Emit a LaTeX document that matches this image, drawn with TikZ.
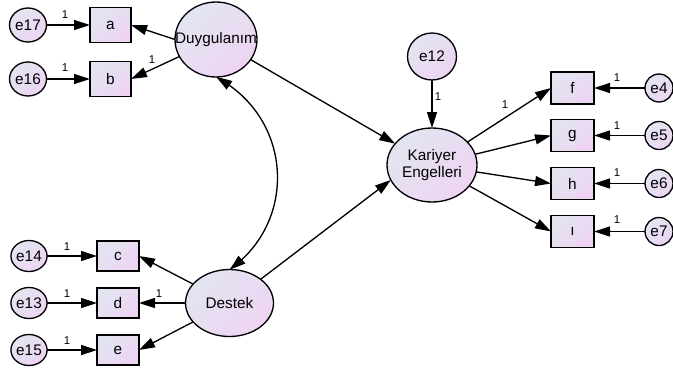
\documentclass[tikz,border=0pt]{standalone}
\usepackage{fontspec}
\setmainfont{Liberation Sans}
\usetikzlibrary{arrows.meta,bending,shapes.geometric}
\definecolor{cA}{RGB}{226,229,241}
\definecolor{cB}{RGB}{238,212,242}
\begin{document}
\begin{tikzpicture}[x=0.75pt,y=-0.75pt,
  every node/.style={inner sep=0pt, outer sep=0pt, font=\fontsize{11.5}{12.6}\selectfont},
  grad/.style={top color=cA, bottom color=cB, shading angle=45},
  obsbox/.style={draw, line width=1pt, grad, rectangle},
  latent/.style={draw, line width=1pt, grad, ellipse},
  arr/.style={line width=1pt, -{Triangle[length=12pt,width=7.5pt]}},
  dbl/.style={line width=1pt, {Triangle[length=12pt,width=7.5pt,bend]}-{Triangle[length=12pt,width=7.5pt,bend]}},
  one/.style={font=\fontsize{8.5}{9}\selectfont}
]
\useasboundingbox (0,0) rectangle (673,372);

% latent variables
\node[latent, minimum width=61.5pt, minimum height=56.25pt, label=center:{Duygulanım}] (duy) at (216,39.5) {};
\node[latent, minimum width=66pt, minimum height=50.25pt] (des) at (229.5,303) {Destek};
\node[latent, minimum width=67.5pt, minimum height=55.5pt, align=center] (kar) at (432,165) {Kariyer\\Engelleri};

% error terms
\node[latent, minimum width=27.75pt, minimum height=25.5pt] (e17) at (28,25) {e17};
\node[latent, minimum width=27.75pt, minimum height=25.5pt] (e16) at (28,79) {e16};
\node[latent, minimum width=25.5pt, minimum height=23.25pt] (e14) at (29,256) {e14};
\node[latent, minimum width=25.5pt, minimum height=23.25pt] (e13) at (29,303) {e13};
\node[latent, minimum width=25.5pt, minimum height=23.25pt] (e15) at (29,350) {e15};
\node[latent, minimum width=36.75pt, minimum height=35.25pt] (e12) at (432,56.5) {e12};
\node[latent, minimum width=21pt, minimum height=21pt] (e4) at (659,88) {e4};
\node[latent, minimum width=21pt, minimum height=21pt] (e5) at (659,135.5) {e5};
\node[latent, minimum width=21pt, minimum height=21pt] (e6) at (659,183.5) {e6};
\node[latent, minimum width=21pt, minimum height=21pt] (e7) at (659,231.5) {e7};

% observed variables
\node[obsbox, minimum width=30.75pt, minimum height=26.25pt] (a) at (110.5,25) {a};
\node[obsbox, minimum width=30.75pt, minimum height=26.25pt] (b) at (110.5,79) {b};
\node[obsbox, minimum width=31.5pt, minimum height=22.5pt] (c) at (118,256) {c};
\node[obsbox, minimum width=31.5pt, minimum height=22.5pt] (d) at (118,303) {d};
\node[obsbox, minimum width=31.5pt, minimum height=22.5pt] (e) at (118,350) {e};
\node[obsbox, minimum width=32.25pt, minimum height=24pt] (f) at (572.5,88) {f};
\node[obsbox, minimum width=32.25pt, minimum height=24pt] (g) at (572.5,135.5) {g};
\node[obsbox, minimum width=32.25pt, minimum height=24pt] (h) at (572.5,183.5) {h};
\node[obsbox, minimum width=32.25pt, minimum height=24pt] (i) at (572.5,231.5) {ı};

% error arrows
\draw[arr] (e17) -- (a);
\draw[arr] (e16) -- (b);
\draw[arr] (e14) -- (c);
\draw[arr] (e13) -- (d);
\draw[arr] (e15) -- (e);
\draw[arr] (e12) -- (kar);
\draw[arr] (e4) -- (f);
\draw[arr] (e5) -- (g);
\draw[arr] (e6) -- (h);
\draw[arr] (e7) -- (i);

% loadings
\draw[arr] (duy.180) -- (a.east);
\draw[arr] (duy) -- (b.east);
\draw[arr] (des) -- (c.east);
\draw[arr] (des) -- (d);
\draw[arr] (des) -- (e.east);
\draw[arr] (kar) -- (f.west);
\draw[arr] (kar) -- (g.west);
\draw[arr] (kar) -- (h.west);
\draw[arr] (kar) -- (i.west);

% structural paths
\draw[arr] (duy) -- (kar);
\draw[arr] (des) -- (kar.200);

% covariance
\draw[dbl] (duy.south) .. controls +(78,42) and +(67.5,-47) .. (des.north);

% fixed parameter labels
\node[one] (l1) at (65,15) {1};
\node[one] (l2) at (65,68) {1};
\node[one] (l3) at (152,60) {1};
\node[one] (l4) at (67,247) {1};
\node[one] (l5) at (67,294) {1};
\node[one] (l6) at (159,294) {1};
\node[one] (l7) at (67,341) {1};
\node[one] (l8) at (438,97) {1};
\node[one] (l9) at (505,105) {1};
\node[one] (l10) at (617,78) {1};
\node[one] (l11) at (617,126) {1};
\node[one] (l12) at (617,173) {1};
\node[one] (l13) at (617,220) {1};
\end{tikzpicture}
\end{document}
